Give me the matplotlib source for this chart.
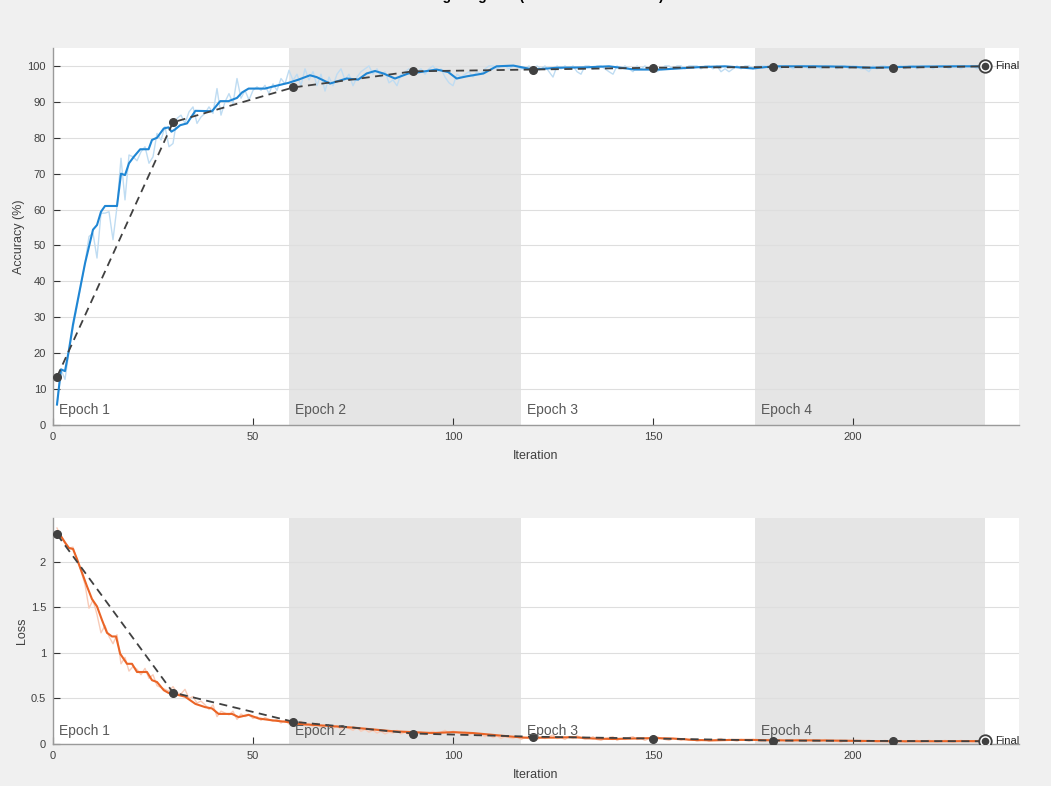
import matplotlib
matplotlib.use("Agg")
import matplotlib.pyplot as plt
import numpy as np

plt.rcParams['font.family'] = ['Liberation Sans', 'DejaVu Sans']

# ---------------- data ----------------
title_text = "Training Progress (10-Jul-2018 16:25:25)"
epoch_labels = ["Epoch 1", "Epoch 2", "Epoch 3", "Epoch 4"]
epoch_bounds = [0, 59, 117, 175.5, 233]

acc_raw = [
    5.7, 15.5, 12.7, 20.5, 27.0, 33.0, 39.0, 45.0, 52.5, 53.4,
    46.5, 59.0, 59.0, 59.4, 51.6, 60.8, 74.3, 62.7, 75.2, 74.7,
    73.6, 76.1, 77.5, 72.9, 74.7, 81.2, 79.4, 83.1, 77.5, 78.4,
    85.4, 86.3, 84.0, 87.2, 88.6, 84.0, 85.8, 86.8, 88.6, 86.8,
    93.7, 86.3, 90.0, 92.3, 89.5, 96.5, 91.0, 93.2, 90.5, 93.2,
    94.2, 93.2, 94.6, 92.3, 95.0, 93.2, 96.5, 95.0, 98.8, 96.0,
    97.7, 94.5, 99.2, 96.1, 98.4, 94.5, 97.7, 93.0, 96.9, 94.5,
    97.7, 99.2, 96.1, 97.7, 94.5, 96.9, 98.4, 99.2, 100, 97.7,
    99.2, 96.9, 98.4, 95.3, 96.1, 94.5, 97.7, 98.4, 99.2, 97.7,
    98.4, 99.2, 97.7, 99.2, 100, 98.4, 99.2, 96.9, 95.3, 94.5,
    97.7, 96.9, 97.7, 98.4, 96.9, 98.4, 97.7, 99.2, 100, 100,
    99.2, 100, 100, 99.2, 100, 100, 99.2, 99.2, 100, 98.4,
    100, 99.2, 100, 98.4, 96.9, 100, 99.2, 100, 99.2, 100,
    98.4, 97.7, 100, 100, 99.2, 100, 100, 99.2, 98.4, 97.7,
    100, 99.2, 100, 99.2, 98.4, 100, 99.2, 100, 99.2, 100,
    98.4, 99.2, 100, 100, 99.2, 100, 100, 99.2, 100, 100,
    100, 99.2, 100, 100, 99.2, 100, 98.4, 99.2, 98.4, 99.2,
    100, 99.2, 100, 100, 99.2, 100, 100, 100, 99.2, 100,
    100, 99.2, 100, 100, 99.2, 100, 100, 100, 99.2, 100,
    100, 99.2, 100, 100, 100, 99.2, 100, 100, 99.2, 100,
    100, 99.2, 99.2, 98.4, 100, 99.2, 100, 100, 99.2, 100,
    100, 100, 99.2, 100, 100, 99.2, 100, 100, 100, 99.2,
    100, 100, 100, 99.2, 100, 100, 99.2, 100, 100, 100,
    99.2, 100, 99.2,
]

acc_smooth_iter = [1, 2, 3, 4, 5, 8, 10, 11, 12, 13, 16, 17, 18, 19, 20.2, 21.8, 23.9, 24.75,
                   26, 27.7, 28.9, 29.6, 30.5, 31.8, 33.5, 35.6, 39.75, 41.8, 43.9, 46,
                   47.25, 48.9, 53, 54.75, 58.9, 61.4, 64.25, 65.9, 69.25, 73.4, 76.3,
                   78.4, 80.5, 82.6, 85.5, 88.8, 91.75, 95.9, 98.8, 100.9, 103.4, 107.6,
                   110.9, 115.1, 120, 126, 133, 139, 145.5, 152, 162, 168, 175, 180,
                   190, 198, 205, 215, 225, 233]
acc_smooth_val = [5.7, 15.5, 15.0, 21.0, 28.0, 45.0, 54.4, 55.7, 59.4, 61.0, 61.0, 70.0, 69.6,
                  72.9, 74.7, 76.8, 76.8, 79.4, 80.0, 82.6, 82.9, 81.7, 82.3, 83.5, 84.0,
                  87.5, 87.4, 90.2, 90.2, 91.1, 92.6, 93.7, 93.7, 94.2, 95.3, 96.2, 97.4,
                  96.9, 95.1, 96.5, 96.2, 97.9, 98.6, 97.9, 96.5, 97.9, 98.3, 99.0, 98.3,
                  96.5, 97.1, 97.9, 99.9, 100.1, 99.0, 99.5, 99.6, 99.9, 99.0, 99.0,
                  99.7, 99.9, 99.3, 99.9, 99.9, 99.8, 99.5, 99.8, 99.9, 99.9]

val_iter = [1, 30, 60, 90, 120, 150, 180, 210, 233]
acc_val = [13.4, 84.3, 94.0, 98.5, 99.0, 99.5, 99.7, 99.5, 99.9]
loss_val = [2.30, 0.565, 0.245, 0.115, 0.080, 0.060, 0.038, 0.033, 0.030]

loss_raw = [
    2.37, 2.28, 2.22, 2.15, 2.16, 2.02, 1.90, 1.75, 1.49, 1.58,
    1.42, 1.22, 1.30, 1.18, 1.10, 1.20, 0.88, 0.95, 0.80, 0.85,
    0.82, 0.76, 0.83, 0.72, 0.76, 0.64, 0.62, 0.60, 0.58, 0.63,
    0.56, 0.55, 0.60, 0.50, 0.52, 0.45, 0.47, 0.43, 0.38, 0.43,
    0.30, 0.36, 0.34, 0.32, 0.36, 0.27, 0.33, 0.30, 0.32, 0.28,
    0.30, 0.26, 0.29, 0.27, 0.25, 0.27, 0.23, 0.26, 0.22, 0.24,
    0.21, 0.25, 0.20, 0.22, 0.19, 0.23, 0.18, 0.21, 0.20, 0.17,
    0.20, 0.16, 0.19, 0.17, 0.15, 0.18, 0.14, 0.16, 0.13, 0.15,
    0.12, 0.14, 0.11, 0.13, 0.12, 0.15, 0.11, 0.13, 0.10, 0.12,
    0.11, 0.13, 0.10, 0.12, 0.14, 0.11, 0.13, 0.15, 0.12, 0.14,
    0.13, 0.11, 0.13, 0.10, 0.12, 0.09, 0.11, 0.08, 0.10, 0.07,
    0.09, 0.06, 0.08, 0.07, 0.06, 0.08, 0.05, 0.07, 0.06, 0.09,
    0.05, 0.07, 0.06, 0.08, 0.10, 0.06, 0.07, 0.05, 0.08, 0.06,
    0.09, 0.07, 0.05, 0.06, 0.08, 0.05, 0.04, 0.06, 0.07, 0.08,
    0.04, 0.06, 0.05, 0.07, 0.08, 0.05, 0.06, 0.04, 0.06, 0.05,
    0.08, 0.06, 0.05, 0.04, 0.06, 0.05, 0.04, 0.06, 0.04, 0.05,
    0.03, 0.04, 0.05, 0.03, 0.04, 0.05, 0.06, 0.04, 0.05, 0.04,
    0.03, 0.05, 0.04, 0.03, 0.05, 0.04, 0.03, 0.04, 0.05, 0.03,
    0.04, 0.05, 0.03, 0.04, 0.03, 0.05, 0.04, 0.03, 0.04, 0.03,
    0.04, 0.03, 0.05, 0.03, 0.04, 0.03, 0.02, 0.04, 0.03, 0.03,
    0.04, 0.02, 0.03, 0.04, 0.03, 0.02, 0.03, 0.04, 0.03, 0.02,
    0.03, 0.04, 0.02, 0.03, 0.03, 0.04, 0.02, 0.03, 0.04, 0.03,
    0.02, 0.03, 0.04, 0.03, 0.02, 0.03, 0.04, 0.03, 0.03, 0.02,
    0.03, 0.04, 0.03,
]

loss_smooth_iter = [1, 2, 3, 4, 5, 6, 7.25, 8.5, 9.75, 11, 12.25, 13.5, 14.75, 15.75, 16.8,
                    18.5, 19.75, 21, 23.5, 24.75, 26, 27.7, 28.9, 30.6, 33, 35.6, 38,
                    39.75, 41.4, 44.75, 46.4, 48.9, 51.4, 54.75, 58.9, 61.4, 65, 70, 75,
                    80, 85, 90, 95, 100, 105, 110, 115, 118, 125, 130, 135, 140, 145,
                    150, 155, 160, 165, 170, 175, 180, 190, 200, 210, 220, 233]
loss_smooth_val = [2.32, 2.28, 2.21, 2.15, 2.14, 2.03, 1.88, 1.73, 1.59, 1.51, 1.36, 1.22,
                   1.18, 1.18, 0.99, 0.88, 0.88, 0.79, 0.79, 0.70, 0.68, 0.59, 0.56, 0.545,
                   0.52, 0.44, 0.405, 0.39, 0.33, 0.33, 0.295, 0.32, 0.28, 0.26, 0.24,
                   0.22, 0.21, 0.195, 0.18, 0.16, 0.14, 0.13, 0.12, 0.13, 0.12, 0.10,
                   0.08, 0.07, 0.07, 0.075, 0.06, 0.055, 0.06, 0.065, 0.06, 0.045, 0.04,
                   0.045, 0.045, 0.04, 0.04, 0.035, 0.03, 0.03, 0.032]

# ---------------- style ----------------
BG = '#f0f0f0'
SHADE = '#e5e5e5'
GRID = '#dedede'
SPINE = '#9a9a9a'
TICK = '#333333'
ACC_C = '#1f86d4'
ACC_L = '#bfdcf2'
LOSS_C = '#ea6426'
LOSS_L = '#f8cbb8'
VAL_C = '#404040'
TXT = '#404040'

fig = plt.figure(figsize=(10.51, 7.86), dpi=100, facecolor=BG)
ax1 = fig.add_axes([53/1051, 1-425/786, (1019-53)/1051, (425-48)/786])
ax2 = fig.add_axes([53/1051, 1-744/786, (1019-53)/1051, (744-518)/786])

fig.text(0.505, 0.996, title_text, ha='center', va='bottom', fontsize=10,
         fontweight='bold', color='#000000')

iters = np.arange(1, len(acc_raw) + 1)


def setup(ax, ylim, yticks, ylabels, ylabel, raw, sm_i, sm_v, vals, col, lcol, lab_frac):
    ax.set_facecolor('white')
    ax.set_xlim(0, 241.5)
    ax.set_ylim(*ylim)
    for k in (1, 3):
        ax.axvspan(epoch_bounds[k], epoch_bounds[k + 1], color=SHADE, lw=0, zorder=0)
    for t in yticks:
        ax.axhline(t, color=GRID, lw=0.8, zorder=0.5)
    ax.plot(iters, raw, color=lcol, lw=1.0, zorder=2)
    ax.plot(sm_i, sm_v, color=col, lw=1.5, zorder=3)
    ax.plot(val_iter, vals, color=VAL_C, lw=1.3, ls=(0, (4.5, 3)), zorder=4)
    ax.plot(val_iter[:-1], vals[:-1], 'o', color=VAL_C, ms=5.5, zorder=5)
    ax.plot(val_iter[-1], vals[-1], 'o', mfc='white', mec=VAL_C, ms=9, mew=1.3, zorder=5)
    ax.plot(val_iter[-1], vals[-1], 'o', color=VAL_C, ms=4.5, zorder=6)
    ax.annotate('Final', (val_iter[-1], vals[-1]), xytext=(7, 0), textcoords='offset points',
                va='center', ha='left', fontsize=8, color='#262626', zorder=7)
    for k, lab in enumerate(epoch_labels):
        ax.text(epoch_bounds[k] + 1.5, lab_frac, lab, transform=ax.get_xaxis_transform(),
                fontsize=10, color='#595959', ha='left', va='bottom', zorder=6)
    ax.set_xticks([0, 50, 100, 150, 200])
    ax.set_yticks(yticks)
    ax.set_yticklabels(ylabels)
    ax.tick_params(direction='in', length=5, width=0.8, colors=TICK, labelcolor=TXT,
                   labelsize=8, pad=5)
    for s in ('top', 'right'):
        ax.spines[s].set_visible(False)
    for s in ('left', 'bottom'):
        ax.spines[s].set_color(SPINE)
        ax.spines[s].set_linewidth(1.0)
    ax.set_xlabel('Iteration', fontsize=9, color=TXT, labelpad=6)
    ax.set_ylabel(ylabel, fontsize=9, color=TXT, labelpad=2)


setup(ax1, (0, 105), list(range(0, 101, 10)), [str(v) for v in range(0, 101, 10)],
      'Accuracy (%)', acc_raw, acc_smooth_iter, acc_smooth_val, acc_val, ACC_C, ACC_L, 0.022)
setup(ax2, (0, 2.48), [0, 0.5, 1, 1.5, 2], ['0', '0.5', '1', '1.5', '2'],
      'Loss', loss_raw, loss_smooth_iter, loss_smooth_val, loss_val, LOSS_C, LOSS_L, 0.025)

fig.savefig('out.png', dpi=100, facecolor=BG)
